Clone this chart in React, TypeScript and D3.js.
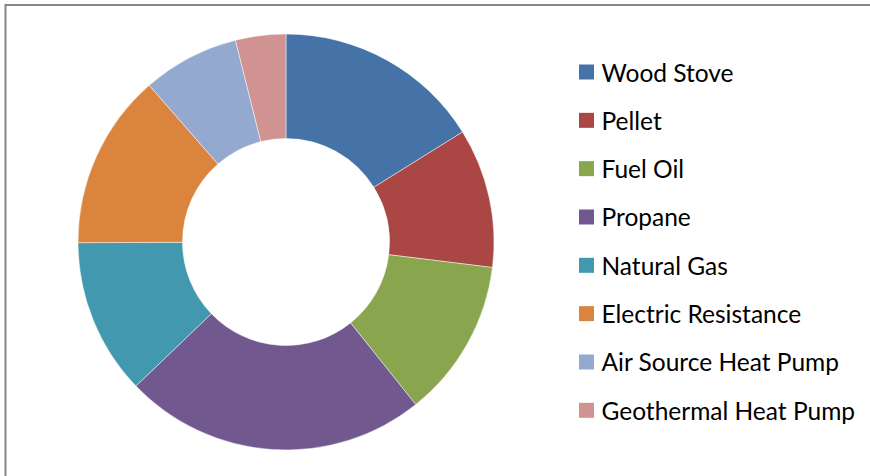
import React from "react";
import * as d3 from "d3";

const categories = [
  "Wood Stove",
  "Pellet",
  "Fuel Oil",
  "Propane",
  "Natural Gas",
  "Electric Resistance",
  "Air Source Heat Pump",
  "Geothermal Heat Pump",
];
const values = [16.1, 10.8, 12.3, 23.5, 12.1, 13.6, 7.5, 3.9];
const colors = [
  "#4572A7",
  "#AA4643",
  "#89A54E",
  "#71588F",
  "#4198AF",
  "#DB843D",
  "#93A9CF",
  "#D19392",
];

const W = 870;
const H = 476;
const cx = 286;
const cy = 242;
const outerR = 208;
const innerR = 103.5;

export default function App() {
  const data = categories.map((c, i) => ({ name: c, value: values[i], color: colors[i] }));
  const pie = d3
    .pie<any>()
    .value((d: any) => d.value)
    .sort(null)
    .startAngle(0)
    .endAngle(2 * Math.PI);
  const arcs = pie(data);
  const arc = d3.arc<any>().innerRadius(innerR).outerRadius(outerR);

  const legendX = 579;
  const legendY0 = 72;
  const legendStep = 48.33;

  return (
    <svg
      width={W}
      height={H}
      style={{ position: "absolute", left: 0, top: 0, display: "block" }}
    >
      <rect x={0} y={0} width={W} height={H} fill="#fff" />
      <rect x={5.5} y={5} width={W + 20} height={H + 20} fill="#fff" stroke="#868686" strokeWidth={2} />
      <g transform={`translate(${cx},${cy})`}>
        {arcs.map((a, i) => (
          <path key={i} d={arc(a) as string} fill={a.data.color} stroke="#ffffff" strokeWidth={0.6} strokeOpacity={0.8} />
        ))}
      </g>
      <g fontFamily="Lato, 'Open Sans', sans-serif" fontSize={24.5} fill="#000">
        {categories.map((c, i) => {
          const y = legendY0 + i * legendStep;
          return (
            <g key={c}>
              <rect x={legendX} y={y - 7.5} width={15} height={15} fill={colors[i]} />
              <text x={601.5} y={y} dominantBaseline="central">
                {c}
              </text>
            </g>
          );
        })}
      </g>
    </svg>
  );
}
